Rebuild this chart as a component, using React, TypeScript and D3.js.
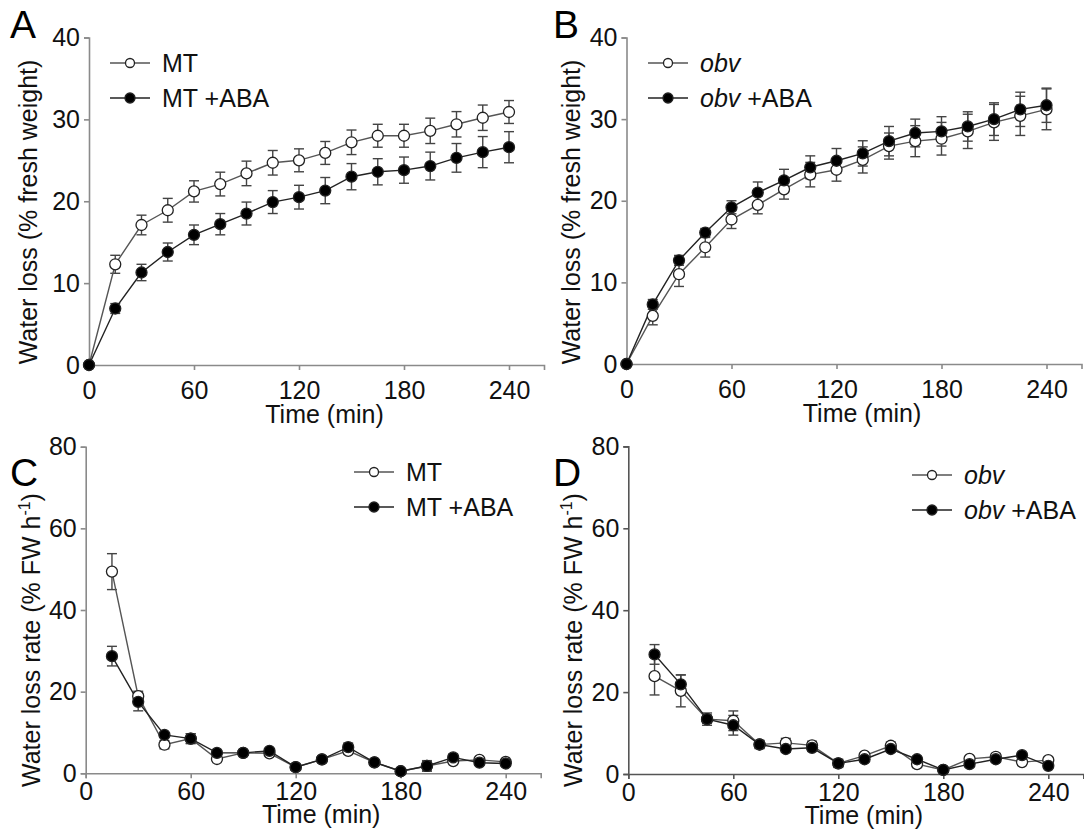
import React, { useEffect, useRef } from "react";
import * as d3 from "d3";

// sampling times (min)
const lossTimes = [0, 15, 30, 45, 60, 75, 90, 105, 120, 135, 150, 165, 180, 195, 210, 225, 240];
const rateTimes = [15, 30, 45, 60, 75, 90, 105, 120, 135, 150, 165, 180, 195, 210, 225, 240];

// A: MT water loss (% fresh weight)
const mtLoss = [0, 12.3, 17.1, 18.9, 21.2, 22.1, 23.4, 24.7, 25.0, 25.9, 27.2, 28.0, 28.0, 28.6, 29.4, 30.2, 30.9];
const mtLossErr = [0, 1.1, 1.2, 1.45, 1.3, 1.45, 1.5, 1.5, 1.4, 1.4, 1.5, 1.4, 1.4, 1.55, 1.55, 1.55, 1.4];
const mtAbaLoss = [0, 6.9, 11.3, 13.8, 15.9, 17.2, 18.5, 19.9, 20.5, 21.3, 23.0, 23.6, 23.8, 24.3, 25.3, 26.0, 26.6];
const mtAbaLossErr = [0, 0.6, 1.0, 1.1, 1.2, 1.3, 1.4, 1.4, 1.45, 1.6, 1.6, 1.6, 1.6, 1.7, 1.75, 1.9, 1.9];

// B: obv water loss
const obvLoss = [0, 5.9, 11.0, 14.3, 17.7, 19.5, 21.4, 23.2, 23.8, 25.0, 26.7, 27.3, 27.6, 28.5, 29.6, 30.4, 31.2];
const obvLossErr = [0, 1.1, 1.5, 1.2, 1.1, 1.1, 1.2, 1.5, 1.4, 1.6, 1.6, 1.9, 2.0, 2.1, 2.2, 2.4, 2.5];
const obvAbaLoss = [0, 7.3, 12.7, 16.1, 19.2, 21.0, 22.5, 24.1, 24.9, 25.8, 27.3, 28.3, 28.5, 29.1, 30.0, 31.2, 31.7];
const obvAbaLossErr = [0, 0.6, 0.6, 0.5, 0.8, 1.3, 1.35, 1.4, 1.5, 1.55, 1.8, 1.7, 1.8, 1.8, 2.0, 2.1, 2.1];

// C: MT water loss rate (% FW h-1)
const mtRate = [49.4, 18.9, 7.0, 8.5, 3.5, 5.0, 4.9, 1.5, 3.4, 5.5, 2.7, 0.5, 1.8, 3.0, 3.3, 2.8];
const mtRateErr = [4.4, 1.2, 1.0, 1.2, 0.7, 0.5, 0.6, 0.6, 0.5, 0.8, 0.5, 0.4, 1.0, 0.6, 0.6, 0.5];
const mtAbaRate = [28.7, 17.5, 9.4, 8.5, 5.0, 5.0, 5.5, 1.5, 3.4, 6.4, 2.7, 0.5, 1.8, 3.9, 2.6, 2.4];
const mtAbaRateErr = [2.4, 2.2, 0.5, 1.2, 0.6, 0.5, 0.6, 0.7, 0.5, 1.0, 0.5, 0.4, 1.3, 0.8, 0.6, 0.6];

// D: obv water loss rate
const obvRate = [23.9, 20.3, 13.4, 13.0, 7.2, 7.6, 7.0, 2.6, 4.5, 6.9, 2.4, 1.0, 3.7, 4.2, 2.9, 3.4];
const obvRateErr = [4.6, 3.9, 1.5, 2.4, 1.0, 1.1, 1.0, 0.8, 0.6, 0.9, 0.8, 0.6, 0.6, 0.8, 0.7, 0.7];
const obvAbaRate = [29.2, 21.9, 13.4, 11.9, 7.2, 6.1, 6.4, 2.6, 3.6, 6.1, 3.6, 1.0, 2.4, 3.6, 4.6, 2.0];
const obvAbaRateErr = [2.4, 2.3, 1.0, 2.4, 0.9, 0.8, 0.8, 1.0, 0.6, 0.8, 0.7, 0.6, 0.6, 0.7, 0.6, 0.6];

const xTicks = [0, 60, 120, 180, 240];
const lossTicks = [0, 10, 20, 30, 40];
const rateTicks = [0, 20, 40, 60, 80];

const FONT = "'Liberation Sans', Arial, Helvetica, sans-serif";

const panels = [
  {
    letter: "A", left: 89, top: 37.5, bottom: 365, yMax: 40, yTicks: lossTicks, axisColor: "#8a8a8a",
    xPad: 11, titleX: 37, titleY: 212, xTitleY: 423, letterX: 10, letterY: 38,
    rate: false, times: lossTimes, strain: "MT", italic: false, legX: 110, legY: 63,
    open: mtLoss, openErr: mtLossErr, filled: mtAbaLoss, filledErr: mtAbaLossErr,
  },
  {
    letter: "B", left: 626.5, top: 37.5, bottom: 364, yMax: 40, yTicks: lossTicks, axisColor: "#8a8a8a",
    xPad: 11, titleX: 580, titleY: 212, xTitleY: 422, letterX: 553, letterY: 38,
    rate: false, times: lossTimes, strain: "obv", italic: true, legX: 648, legY: 63,
    open: obvLoss, openErr: obvLossErr, filled: obvAbaLoss, filledErr: obvAbaLossErr,
  },
  {
    letter: "C", left: 85.7, top: 446.7, bottom: 773.3, yMax: 80, yTicks: rateTicks, axisColor: "#8a8a8a",
    xPad: 4, titleX: 40, titleY: 640, xTitleY: 823, letterX: 10, letterY: 486,
    rate: true, times: rateTimes, strain: "MT", italic: false, legX: 354, legY: 472,
    open: mtRate, openErr: mtRateErr, filled: mtAbaRate, filledErr: mtAbaRateErr,
  },
  {
    letter: "D", left: 628.3, top: 446.4, bottom: 774, yMax: 80, yTicks: rateTicks, axisColor: "#555",
    xPad: 4, titleX: 582, titleY: 640, xTitleY: 824, letterX: 553, letterY: 486,
    rate: true, times: rateTimes, strain: "obv", italic: true, legX: 912, legY: 475,
    open: obvRate, openErr: obvRateErr, filled: obvAbaRate, filledErr: obvAbaRateErr,
  },
];

function App() {
  const svgRef = useRef<SVGSVGElement>(null);

  useEffect(() => {
    const svg = d3.select(svgRef.current);
    svg.selectAll("*").remove();

    panels.forEach((p) => {
      const g = svg.append("g");
      const x = d3.scaleLinear().domain([0, 260]).range([p.left, p.left + 455]);
      const y = d3.scaleLinear().domain([0, p.yMax]).range([p.bottom, p.top]);

      // axes
      const xAxis = d3.axisBottom(x).tickValues(xTicks).tickSize(5).tickSizeOuter(5).tickPadding(p.xPad);
      const yAxis = d3.axisLeft(y).tickValues(p.yTicks).tickSize(5).tickSizeOuter(5).tickPadding(4);
      const gx = g.append("g").attr("transform", `translate(0,${p.bottom})`).call(xAxis);
      const gy = g.append("g").attr("transform", `translate(${p.left},0)`).call(yAxis);
      [gx, gy].forEach((ax) => {
        ax.select(".domain").attr("stroke", p.axisColor).attr("stroke-width", 1.6);
        ax.selectAll(".tick line").attr("stroke", p.axisColor).attr("stroke-width", 1.6);
        ax.selectAll(".tick text").attr("fill", "#111").attr("font-size", 25).attr("font-family", FONT);
      });

      // axis titles
      g.append("text")
        .attr("x", (x(0) + x(260)) / 2 + 8)
        .attr("y", p.xTitleY)
        .attr("text-anchor", "middle")
        .attr("font-family", FONT)
        .attr("font-size", 25)
        .attr("fill", "#111")
        .text("Time (min)");

      const yt = g.append("text")
        .attr("transform", `translate(${p.titleX},${p.titleY}) rotate(-90)`)
        .attr("text-anchor", "middle")
        .attr("font-family", FONT)
        .attr("font-size", 25)
        .attr("fill", "#111");
      if (p.rate) {
        yt.append("tspan").text("Water loss rate (% FW h");
        yt.append("tspan").attr("font-size", 16).attr("dy", -10).text("-1");
        yt.append("tspan").attr("dy", 10).text(")");
      } else {
        yt.text("Water loss (% fresh weight)");
      }

      g.append("text")
        .attr("x", p.letterX)
        .attr("y", p.letterY)
        .attr("font-family", FONT)
        .attr("font-size", 39)
        .attr("fill", "#000")
        .text(p.letter);

      const series = [
        { vals: p.open, errs: p.openErr, fill: "#fff", line: "#555" },
        { vals: p.filled, errs: p.filledErr, fill: "#000", line: "#222" },
      ];

      // error bars
      series.forEach((s) => {
        const eg = g.append("g").attr("stroke", "#444").attr("stroke-width", 1.4);
        s.vals.forEach((v, i) => {
          const e = s.errs[i];
          if (!e) return;
          const cx = x(p.times[i]);
          eg.append("line").attr("x1", cx).attr("x2", cx).attr("y1", y(v - e)).attr("y2", y(v + e));
          eg.append("line").attr("x1", cx - 5).attr("x2", cx + 5).attr("y1", y(v - e)).attr("y2", y(v - e));
          eg.append("line").attr("x1", cx - 5).attr("x2", cx + 5).attr("y1", y(v + e)).attr("y2", y(v + e));
        });
      });

      // lines
      const line = d3.line<number>().x((_, i) => x(p.times[i])).y((d) => y(d));
      series.forEach((s) => {
        g.append("path").attr("d", line(s.vals)).attr("fill", "none").attr("stroke", s.line).attr("stroke-width", 1.4);
      });

      // markers
      series.forEach((s) => {
        g.append("g")
          .selectAll("circle")
          .data(s.vals)
          .join("circle")
          .attr("cx", (_, i) => x(p.times[i]))
          .attr("cy", (d) => y(d))
          .attr("r", 5.5)
          .attr("fill", s.fill)
          .attr("stroke", "#222")
          .attr("stroke-width", 1.3);
      });

      // legend
      series.forEach((s, i) => {
        const ly = p.legY + i * 35;
        const lg = g.append("g");
        lg.append("line").attr("x1", p.legX).attr("x2", p.legX + 40).attr("y1", ly).attr("y2", ly)
          .attr("stroke", s.line).attr("stroke-width", 1.4);
        lg.append("circle").attr("cx", p.legX + 20).attr("cy", ly).attr("r", i === 0 ? 4.5 : 5)
          .attr("fill", s.fill).attr("stroke", "#222").attr("stroke-width", 1.3);
        const t = lg.append("text").attr("x", p.legX + 52).attr("y", ly + 9)
          .attr("font-family", FONT).attr("font-size", 25).attr("fill", "#111");
        t.append("tspan").attr("font-style", p.italic ? "italic" : "normal").text(p.strain);
        if (i === 1) t.append("tspan").text(" +ABA");
      });
    });
  }, []);

  return (
    <svg
      ref={svgRef}
      width={1084}
      height={834}
      style={{ position: "absolute", left: 0, top: 0, background: "#fff" }}
    />
  );
}

export default App;
